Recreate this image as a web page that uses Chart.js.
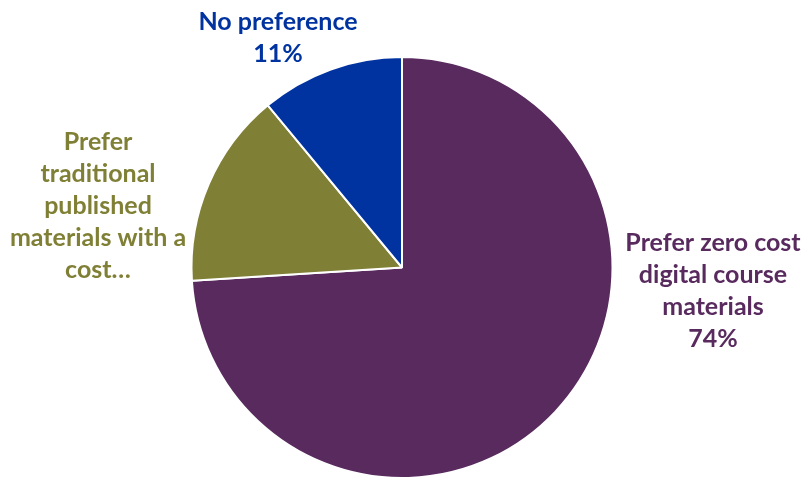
<!DOCTYPE html>
<html>
  <head>
    <title>Course materials preference</title>
    <script src="https://cdn.jsdelivr.net/npm/chart.js"></script>
    <style>
      body {
        margin: 0;
        padding: 0;
        background: #ffffff;
      }
      #wrap {
        width: 804px;
        height: 479px;
      }
    </style>
  </head>
  <body>
    <div id="wrap"><canvas id="myChart"></canvas></div>
    <script>
      // slices, clockwise from 12 o'clock
      const categories = [
        "Prefer zero cost digital course materials",
        "Prefer traditional published materials with a cost…",
        "No preference",
      ];
      const shares = [74, 15, 11];
      const colors = ["#582a5e", "#7f7f35", "#0033a0"];

      // wrapped label lines; the percentage is appended where shown
      const labelLines = [
        ["Prefer zero cost", "digital course", "materials"],
        ["Prefer", "traditional", "published", "materials with a", "cost…"],
        ["No preference"],
      ];
      const showPercent = [true, false, true];

      const FONT = "bold 25px Lato, 'Open Sans', sans-serif";
      const LINE_H = 32;

      // block centre x and first-line y for each label
      const labelAnchor = [
        { x: 713, y: 243 },
        { x: 98, y: 142 },
        { x: 278, y: 22 },
      ];

      const sliceLabels = {
        id: "sliceLabels",
        afterDatasetsDraw(chart) {
          const ctx = chart.ctx;
          const values = chart.data.datasets[0].data;
          ctx.save();
          ctx.font = FONT;
          ctx.textAlign = "center";
          ctx.textBaseline = "middle";
          values.forEach((v, i) => {
            const lines = labelLines[i].slice();
            if (showPercent[i]) lines.push(v + "%");
            ctx.fillStyle = colors[i];
            lines.forEach((t, k) => {
              ctx.fillText(t, labelAnchor[i].x, labelAnchor[i].y + k * LINE_H);
            });
          });
          ctx.restore();
        },
      };

      const ctx = document.getElementById("myChart").getContext("2d");
      new Chart(ctx, {
        type: "pie",
        data: {
          labels: categories,
          datasets: [
            {
              data: shares,
              backgroundColor: colors,
              borderColor: "#ffffff",
              borderWidth: 2,
            },
          ],
        },
        options: {
          responsive: true,
          maintainAspectRatio: false,
          animation: false,
          rotation: 0,
          layout: {
            padding: { top: 56, bottom: -3, left: 187, right: 187 },
          },
          plugins: {
            legend: { display: false },
            tooltip: { enabled: false },
          },
        },
        plugins: [sliceLabels],
      });
    </script>
  </body>
</html>
